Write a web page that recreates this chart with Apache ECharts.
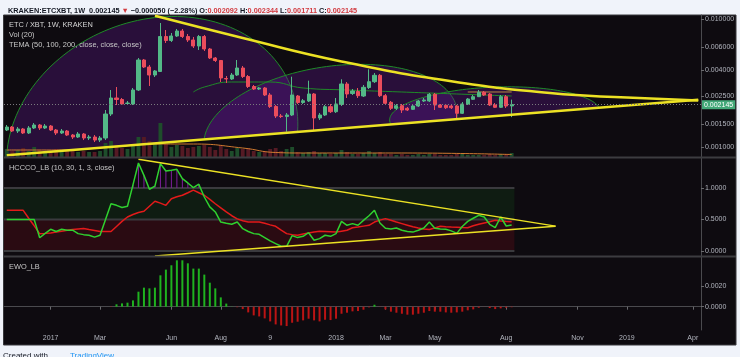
<!DOCTYPE html>
<html><head><meta charset="utf-8">
<script src="https://cdn.jsdelivr.net/npm/echarts@6/dist/echarts.min.js"></script>
<style>html,body{margin:0;padding:0;background:#f0f3fa;}#c{width:740px;height:357px;}</style>
</head><body><div id="c"></div>
<script>
// ---------- data ----------
const weekStart = '2016-11-07';
const weekCount = 127;
const tickDates = ['2017-01-02','2017-03-06','2017-06-05','2017-08-07','2017-10-09','2018-01-01','2018-03-05','2018-05-07','2018-08-06','2018-11-05','2019-01-07','2019-04-01'];
const tickLabels = ['2017','Mar','Jun','Aug','9','2018','Mar','May','Aug','Nov','2019','Apr'];

const opens = [
 0.001357,0.001432,0.001333,0.001382,0.001286,0.001407,0.001485,0.001407,0.001458,0.001357,
 0.001286,0.001333,0.001240,0.001196,0.001263,0.001175,0.001196,0.001133,0.001175,0.001810,
 0.002414,0.002350,0.002186,0.002167,0.002788,0.004783,0.004217,0.003651,0.003889,0.007300,
 0.006793,0.007366,0.008059,0.007300,0.006854,0.006153,0.007300,0.005830,0.004958,0.004740,
 0.003429,0.003398,0.003651,0.004142,0.003554,0.002969,0.002838,0.002890,0.002548,0.002071,
 0.001746,0.001730,0.001778,0.002502,0.002226,0.002287,0.002594,0.001684,0.001778,0.002064,
 0.001886,0.002147,0.003106,0.002617,0.002713,0.002502,0.002916,0.003237,0.003631,0.002516,
 0.002234,0.002005,0.002101,0.002005,0.001969,0.002090,0.002287,0.002287,0.002580,0.002128,
 0.002117,0.002090,0.002090,0.001833,0.002167,0.002358,0.002471,0.002675,0.002594,0.002128,
 0.002042,0.002471,0.002092];
const highs = [
 0.001485,0.001458,0.001432,0.001407,0.001458,0.001539,0.001512,0.001512,0.001485,0.001382,
 0.001382,0.001357,0.001263,0.001309,0.001286,0.001240,0.001240,0.001218,0.001945,0.002788,
 0.002942,0.002414,0.002287,0.002890,0.004958,0.004870,0.004371,0.003995,0.009306,0.008205,
 0.007774,0.008354,0.008354,0.007636,0.007234,0.007499,0.007499,0.005935,0.005048,0.004783,
 0.003586,0.003785,0.004783,0.004293,0.003651,0.003050,0.002942,0.002942,0.002641,0.002128,
 0.001810,0.001843,0.003541,0.002548,0.002371,0.003296,0.002641,0.001843,0.002128,0.002167,
 0.002414,0.003380,0.003219,0.002838,0.002890,0.003050,0.004046,0.003785,0.003718,0.002594,
 0.002287,0.002167,0.002167,0.002053,0.002167,0.002329,0.002414,0.002641,0.002641,0.002167,
 0.002167,0.002128,0.002128,0.002246,0.002414,0.002548,0.002788,0.002738,0.002641,0.002206,
 0.002548,0.002548,0.002344];
const lows = [
 0.001333,0.001309,0.001286,0.001263,0.001263,0.001382,0.001357,0.001382,0.001333,0.001240,
 0.001263,0.001218,0.001154,0.001175,0.001133,0.001133,0.001093,0.001093,0.001133,0.001746,
 0.002128,0.002128,0.002128,0.002128,0.002738,0.004142,0.002996,0.003522,0.003854,0.006494,
 0.006612,0.007234,0.007105,0.006612,0.005935,0.005726,0.005624,0.004870,0.004614,0.003219,
 0.003162,0.003337,0.003586,0.003460,0.002890,0.002788,0.002788,0.002502,0.002016,0.001684,
 0.001684,0.001316,0.001746,0.002167,0.002167,0.002246,0.001357,0.001625,0.001746,0.001843,
 0.001843,0.002090,0.002414,0.002548,0.002414,0.002458,0.002838,0.003162,0.002458,0.002128,
 0.001945,0.001945,0.001843,0.001910,0.001945,0.002053,0.002246,0.002246,0.001945,0.002016,
 0.001980,0.001980,0.001625,0.001810,0.002128,0.002329,0.002458,0.002502,0.002090,0.002016,
 0.002016,0.002016,0.001711];
const closes = [
 0.001432,0.001333,0.001382,0.001286,0.001407,0.001485,0.001407,0.001458,0.001357,0.001286,
 0.001333,0.001240,0.001196,0.001263,0.001175,0.001196,0.001133,0.001175,0.001810,0.002414,
 0.002350,0.002167,0.002206,0.002788,0.004783,0.004217,0.003651,0.003924,0.007300,0.006793,
 0.007366,0.008059,0.007300,0.006854,0.006153,0.007300,0.005830,0.004958,0.004740,0.003460,
 0.003398,0.003651,0.004142,0.003554,0.002969,0.002838,0.002890,0.002548,0.002071,0.001746,
 0.001730,0.001778,0.002548,0.002226,0.002297,0.002594,0.001684,0.001778,0.002064,0.001886,
 0.002167,0.003106,0.002594,0.002738,0.002516,0.002926,0.003237,0.003631,0.002516,0.002194,
 0.002005,0.002101,0.001945,0.001945,0.002090,0.002287,0.002329,0.002580,0.002128,0.002042,
 0.002027,0.002027,0.001833,0.002167,0.002371,0.002471,0.002675,0.002548,0.002128,0.002042,
 0.002471,0.002090,0.002145];
const volumes = [
 80,60,70,90,60,100,70,50,60,80,
 50,60,70,50,60,50,50,60,140,160,
 120,90,80,120,200,200,160,140,340,130,
 100,120,110,90,100,110,120,100,70,120,
 80,60,90,80,90,60,50,60,80,90,
 60,80,100,50,40,50,60,40,40,30,
 40,70,50,30,30,40,60,40,50,30,
 30,20,30,20,20,30,20,30,30,20,
 20,20,30,30,20,20,20,20,30,20,
 30,30,40];
const volMA = [[0,70],[10,70],[19,100],[27,130],[34,130],[43,90],[49,45],[54,40],[72,40],[92,25]];
const temaGreen = [[34,0.002689],[36,0.002942],[41,0.003219],[48,0.003219],[54,0.002890],[62,0.002788],[72,0.002689],[82,0.002594],[92,0.002502]];
const temaOrange = [[84,0.002689],[92,0.002689]];
const lastPrice = 0.002145;
const changeText = '\u22120.000050 (\u22122.28%)';
const priceTicks = [0.01, 0.006, 0.004, 0.0025, 0.0015, 0.001];
const priceTrendUpper = [[27,0.010593],[43,0.007105],[61,0.004656],[81,0.003260],[99,0.002641],[113,0.002432],[126,0.002312]];
const priceTrendLower = [[0,0.000863],[126,0.002338]];
const arcs = [
 {start:[0,0.000870], apex:[28,0.01036], end:[53,0.001330]},
 {start:[36,0.001175], apex:[61,0.004371], end:[82,0.001646]},
 {start:[70,0.001501], apex:[86,0.002890], end:[108,0.002023]}
];

const hcGreen = [
 .50,.50,.50,.50,.50,.50,.21,.28,.345,.31,
 .345,.33,.33,.276,.26,.25,.22,.25,.50,.75,
 .725,.69,.71,1.05,1.397,1.20,.98,1.03,1.387,1.27,
 1.28,1.297,1.15,1.08,1.006,1.06,.857,.70,.62,.46,
 .44,.424,.46,.355,.31,.276,.265,.213,.16,.117,
 .075,.075,.244,.213,.233,.29,.17,.197,.25,.233,
 .276,.47,.408,.435,.408,.487,.56,.646,.445,.36,
 .35,.365,.33,.31,.30,.33,.365,.46,.36,.35,
 .344,.32,.28,.39,.47,.52,.567,.54,.424,.37,
 .54,.397,.413];
const hcRed = [
 .646,.646,.646,.646,.52,.40,.276,.28,.286,.30,
 .315,.33,.34,.35,.356,.34,.325,.31,.31,.31,
 .39,.47,.54,.58,.61,.63,.71,.79,.76,.725,
 .83,.86,.885,.925,.966,.925,.885,.82,.75,.685,
 .62,.56,.51,.48,.46,.46,.46,.44,.415,.392,
 .33,.276,.26,.25,.27,.286,.30,.313,.31,.305,
 .30,.315,.33,.37,.38,.395,.408,.46,.49,.514,
 .487,.46,.435,.41,.385,.365,.35,.34,.365,.392,
 .385,.38,.377,.373,.37,.40,.424,.445,.466,.487,
 .476,.47,.466];
const hcLevels = [0, 0.5, 1];
const hcTrendUpper = [[24,1.456],[100,0.395]];
const hcTrendLower = [[27,-0.078],[100,0.395]];

const ewoStart = 19;
const ewoValues = [
 -0.00003,0.00023,0.00032,0.00039,0.00061,0.00145,0.00184,0.00177,0.00184,0.00303,
 0.00358,0.004,0.00448,0.00448,0.00419,0.00368,0.00368,0.0031,0.00232,0.00177,
 0.0009,0.0003,0.00002,-0.00005,-0.00023,-0.00055,-0.00084,-0.00094,-0.00113,-0.00142,
 -0.00171,-0.00181,-0.00187,-0.00155,-0.00145,-0.00132,-0.00116,-0.00132,-0.00142,-0.00126,
 -0.00129,-0.00116,-0.00068,-0.00058,-0.00045,-0.00042,-0.00029,-0.00006,0.00019,-0.00002,
 -0.00026,-0.00048,-0.00058,-0.00068,-0.00077,-0.00077,-0.00068,-0.00058,-0.00042,-0.00048,
 -0.00048,-0.00055,-0.00058,-0.00055,-0.00048,-0.00035,-0.00026,-0.0001,-0.00001,-0.00013,
 -0.00023,-0.00016,-0.0001,-0.00005];
const hcTicks = [0, 0.5, 1];
const ewoTicks = [0, 0.002];

// ---------- build ----------
const FONT = 'Liberation Sans, Arial, sans-serif';
const L = v => Math.log10(v);
const dates = [];
{ const p = weekStart.split('-').map(Number); const t0 = Date.UTC(p[0], p[1]-1, p[2]);
  for (let i = 0; i < weekCount; i++) dates.push(new Date(t0 + i*7*86400000).toISOString().slice(0,10)); }
const lastIdx = closes.length - 1;
const UP = '#53b987', DOWN = '#eb4d5c', YEL = '#ece224';
const AX = '#b2b5be';

function xAx(gi, show) {
  const iv = (i, v) => tickDates.indexOf(v) >= 0;
  return { type:'category', gridIndex:gi, data:dates, boundaryGap:true,
    axisLine:{show:show, lineStyle:{color:'#4a4a4e', width:1}},
    axisTick:{show:show, alignWithLabel:true, interval:iv, length:3, lineStyle:{color:'#6a6a6e'}},
    axisLabel:{show:show, interval:iv, formatter:v => tickLabels[tickDates.indexOf(v)] || '',
      color:AX, fontSize:7, fontFamily:FONT, margin:5, hideOverlap:false},
    splitLine:{show:false} };
}
function yAx(gi, min, max, ticks, fmt) {
  return { type:'value', gridIndex:gi, position:'right', min:min, max:max,
    axisLine:{show:true, lineStyle:{color:'#4a4a4e'}},
    axisTick:{show:true, length:3, customValues:ticks, lineStyle:{color:'#6a6a6e'}},
    axisLabel:{customValues:ticks, formatter:fmt, color:AX, fontSize:7, fontFamily:FONT, margin:4},
    splitLine:{show:false} };
}

const chart = echarts.init(document.getElementById('c'));
const candleData = opens.map((o,i) => [L(o), L(closes[i]), L(lows[i]), L(highs[i])]);
const volData = volumes.map((v,i) => ({value:v, itemStyle:{color: closes[i] >= opens[i] ? '#1e4d2b' : '#551a24'}}));
const logPairs = arr => arr.map(p => [p[0], L(p[1])]);

const header = '{b|KRAKEN:ETCXBT, 1W}  {n|' + lastPrice.toFixed(6) + '} {r|\u25BC} {n|' + changeText + '} ' +
  '{b|O:}{r|' + opens[lastIdx].toFixed(6) + '} {b|H:}{r|' + highs[lastIdx].toFixed(6) + '} ' +
  '{b|L:}{r|' + lows[lastIdx].toFixed(6) + '} {b|C:}{r|' + closes[lastIdx].toFixed(6) + '}';
const HF = 7.3;

const option = {
  animation:false,
  backgroundColor:'#f0f3fa',
  title:{ left:3, top:2, text:header, textStyle:{ fontSize:HF, fontFamily:FONT,
    rich:{ b:{fontWeight:'bold', color:'#131722', fontSize:HF, fontFamily:FONT},
           n:{color:'#131722', fontSize:HF, fontFamily:FONT},
           r:{color:'#d23a3f', fontSize:HF, fontFamily:FONT} } } },
  grid:[
    {left:4, right:39, top:15, height:142},
    {left:4, right:39, top:158, height:98},
    {left:4, right:39, top:257, height:73}
  ],
  xAxis:[xAx(0,false), xAx(1,false), xAx(2,true)],
  yAxis:[
    yAx(0, L(0.000835), L(0.010746), priceTicks.map(L), v => Math.pow(10, v).toFixed(6)),
    {type:'value', gridIndex:0, position:'left', show:false, min:0, max:1420, splitLine:{show:false}},
    yAx(1, -0.079, 1.476, hcTicks, v => v.toFixed(4)),
    yAx(2, -0.00225, 0.0048, ewoTicks, v => v.toFixed(4))
  ],
  graphic:[
    {type:'rect', z:-100, shape:{x:3.5, y:15, width:732.5, height:330}, style:{fill:'#0e0b10', stroke:'#38383c', lineWidth:1}},
    {type:'line', z:100, shape:{x1:4, y1:157.5, x2:736, y2:157.5}, style:{stroke:'#3c3c40', lineWidth:2}},
    {type:'line', z:100, shape:{x1:4, y1:256.5, x2:736, y2:256.5}, style:{stroke:'#3c3c40', lineWidth:2}},
    {type:'text', z:100, style:{x:9, y:25, text:'ETC / XBT, 1W, KRAKEN', fill:'#d6d6d6', font:'7.4px ' + FONT, verticalAlign:'middle'}},
    {type:'text', z:100, style:{x:9, y:35, text:'Vol (20)', fill:'#c8c8c8', font:'7.4px ' + FONT, verticalAlign:'middle'}},
    {type:'text', z:100, style:{x:9, y:45, text:'TEMA (50, 100, 200, close, close, close)', fill:'#c8c8c8', font:'7.4px ' + FONT, verticalAlign:'middle'}},
    {type:'text', z:100, style:{x:9, y:168, text:'HCCCO_LB (10, 30, 1, 3, close)', fill:'#c8c8c8', font:'7.4px ' + FONT, verticalAlign:'middle'}},
    {type:'text', z:100, style:{x:9, y:267, text:'EWO_LB', fill:'#c8c8c8', font:'7.4px ' + FONT, verticalAlign:'middle'}},
    {type:'text', z:100, style:{x:3, y:352, text:'Created with', fill:'#131722', font:'8px ' + FONT}},
    {type:'text', z:100, style:{x:70, y:352, text:'TradingView', fill:'#2196f3', font:'8px ' + FONT}}
  ],
  series:[
    {type:'custom', xAxisIndex:1, yAxisIndex:2, z:1, silent:true, data:[[0,0]],
     renderItem:(params, api) => {
       const x0 = params.coordSys.x;
       const x1 = api.coord([lastIdx, 0])[0] + api.size([1,0])[0]/2;
       const y0 = api.coord([0, hcLevels[0]])[1], y5 = api.coord([0, hcLevels[1]])[1], y1 = api.coord([0, hcLevels[2]])[1];
       const ln = y => ({type:'line', shape:{x1:x0, y1:y, x2:x1, y2:y}, style:{stroke:'#3a3a3e', lineWidth:2}});
       return {type:'group', children:[
         {type:'rect', shape:{x:x0, y:y1, width:x1-x0, height:y5-y1}, style:{fill:'#0f1c12'}},
         {type:'rect', shape:{x:x0, y:y5, width:x1-x0, height:y0-y5}, style:{fill:'#2a0b12'}},
         ln(y1), ln(y5), ln(y0)]};
     }},
    {type:'custom', xAxisIndex:0, yAxisIndex:0, z:1, silent:true, clip:true,
     data:arcs.map(a => [a.start[0], L(a.start[1])]),
     renderItem:(params, api) => {
       const a = arcs[params.dataIndex];
       const S = api.coord([a.start[0], L(a.start[1])]);
       const A = api.coord([a.apex[0], L(a.apex[1])]);
       const E = api.coord([a.end[0], L(a.end[1])]);
       const M = [(S[0]+E[0])/2, (S[1]+E[1])/2];
       const H = [A[0]-M[0], A[1]-M[1]];
       const pts = [];
       for (let k = 0; k <= 80; k++) {
         const t = Math.PI*k/80;
         pts.push([M[0] - Math.cos(t)*(E[0]-S[0])/2 + Math.sin(t)*H[0], M[1] - Math.cos(t)*(E[1]-S[1])/2 + Math.sin(t)*H[1]]);
       }
       return {type:'group', children:[
         {type:'polygon', shape:{points:pts}, style:{fill:'rgba(100,25,150,0.32)'}},
         {type:'polyline', shape:{points:pts}, style:{stroke:'#1f8a28', lineWidth:1, fill:null}}]};
     }},
    {type:'bar', xAxisIndex:0, yAxisIndex:1, z:2, data:volData, barWidth:'70%', silent:true},
    {type:'line', xAxisIndex:0, yAxisIndex:1, z:3, data:volMA, showSymbol:false, smooth:true, lineStyle:{color:'#d07a30', width:1}, silent:true},
    {type:'candlestick', xAxisIndex:0, yAxisIndex:0, z:3, data:candleData, barWidth:3.6,
     itemStyle:{color:UP, color0:DOWN, borderColor:UP, borderColor0:DOWN, borderWidth:1},
     markLine:{silent:true, symbol:['none','none'], animation:false, data:[{yAxis:L(lastPrice)}],
       lineStyle:{color:'#7a7a7e', type:[1,2], width:1},
       label:{position:'end', distance:1, formatter:lastPrice.toFixed(6), color:'#ffffff', backgroundColor:'#43a878',
              padding:[1,2,1,2], fontSize:7, fontFamily:FONT}}},
    {type:'line', xAxisIndex:0, yAxisIndex:0, z:3, data:logPairs(temaGreen), smooth:true, showSymbol:false, lineStyle:{color:'#1f8a28', width:1}, silent:true},
    {type:'line', xAxisIndex:0, yAxisIndex:0, z:3, data:logPairs(temaOrange), showSymbol:false, lineStyle:{color:'#b88a40', width:1}, silent:true},
    {type:'line', xAxisIndex:0, yAxisIndex:0, z:4, data:logPairs(priceTrendUpper), smooth:true, showSymbol:false, lineStyle:{color:YEL, width:2.5}, silent:true},
    {type:'line', xAxisIndex:0, yAxisIndex:0, z:4, data:logPairs(priceTrendLower), showSymbol:false, lineStyle:{color:YEL, width:2.5}, silent:true},
    {type:'custom', xAxisIndex:1, yAxisIndex:2, z:2, silent:true, data:hcGreen.map((v,i) => [i,v]),
     renderItem:(params, api) => {
       const v = api.value(1); if (v <= 1) return null;
       const a = api.coord([api.value(0), 1]), b = api.coord([api.value(0), v]);
       return {type:'line', shape:{x1:a[0], y1:a[1], x2:b[0], y2:b[1]}, style:{stroke:'#7e1f9b', lineWidth:1}};
     }},
    {type:'line', xAxisIndex:1, yAxisIndex:2, z:3, data:hcRed, showSymbol:false, lineStyle:{color:'#e31a1a', width:1.5}, silent:true},
    {type:'line', xAxisIndex:1, yAxisIndex:2, z:3, data:hcGreen, showSymbol:false, lineStyle:{color:'#2fd12f', width:1.5}, silent:true},
    {type:'line', xAxisIndex:1, yAxisIndex:2, z:4, data:hcTrendUpper, showSymbol:false, lineStyle:{color:YEL, width:1.5}, silent:true},
    {type:'line', xAxisIndex:1, yAxisIndex:2, z:4, data:hcTrendLower, showSymbol:false, lineStyle:{color:YEL, width:1.5}, silent:true},
    {type:'bar', xAxisIndex:2, yAxisIndex:3, z:3, barWidth:2, silent:true,
     data:ewoValues.map((v,i) => ({value:[ewoStart+i, v], itemStyle:{color: v >= 0 ? '#1fb21f' : '#bb1414'}}))}
  ]
};
chart.setOption(option);
</script>
</body></html>
